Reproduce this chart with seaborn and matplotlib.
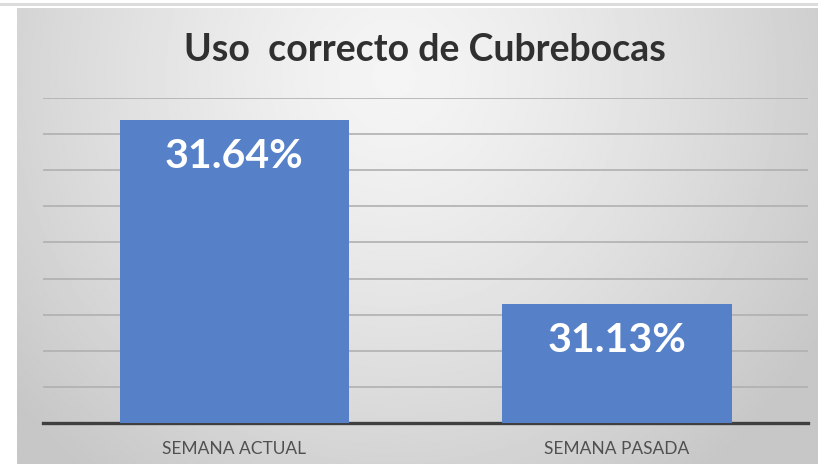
import numpy as np
import pandas as pd
import matplotlib
matplotlib.use("Agg")
import matplotlib.pyplot as plt
import seaborn as sns
from matplotlib.lines import Line2D

categories = ["SEMANA ACTUAL", "SEMANA PASADA"]
values = [31.64, 31.13]
labels = ["31.64%", "31.13%"]
title = "Uso  correcto de Cubrebocas"

sns.set_theme(style="white")
plt.rcParams['font.family'] = ['Lato', 'DejaVu Sans']

W, H = 818, 465
fig = plt.figure(figsize=(W / 100, H / 100), dpi=100, facecolor="white")

# background panel with radial gradient
bg = fig.add_axes([17 / W, 1 / H, 801 / W, 456 / H], zorder=0)
ny, nx = 300, 500
yy, xx = np.mgrid[0:ny, 0:nx]
cx, cy = nx * 0.47, ny * 0.15
d = np.sqrt(((xx - cx) / (nx * 0.62)) ** 2 + ((yy - cy) / (ny * 1.1)) ** 2)
d = np.clip(d, 0, 1)
light, dark = 0.96, 0.78
img = light - (light - dark) * d ** 1.3
bg.imshow(img, cmap="gray", vmin=0, vmax=1, aspect="auto", interpolation="bilinear")
bg.set_axis_off()

# thin band at top
fig.add_artist(Line2D([0, 1], [1 - 4.5 / H, 1 - 4.5 / H], color="#dcdcdc", lw=2.2,
                      transform=fig.transFigure))

ax = fig.add_axes([43 / W, (H - 423) / H, 765 / W, (423 - 98) / H], zorder=1)
ax.patch.set_alpha(0)
df = pd.DataFrame({"cat": categories, "val": values})
sns.barplot(data=df, x="cat", y="val", color="#5681C9", saturation=1, width=0.6,
            linewidth=0, edgecolor="none", ax=ax, zorder=3)
ax.set_ylim(30.8, 31.7)
ax.set_yticks(np.round(np.arange(30.8, 31.71, 0.1), 2))
ax.yaxis.grid(True, color="#b0b0b0", lw=1.2, zorder=0)
ax.set_axisbelow(True)
ax.tick_params(axis="y", left=False, labelleft=False)
ax.tick_params(axis="x", bottom=False, labelsize=12.5, labelcolor="#505050", pad=7)
for s in ["top", "right", "left"]:
    ax.spines[s].set_visible(False)
ax.spines["bottom"].set_color("#3f3f3f")
ax.spines["bottom"].set_linewidth(2.4)
ax.set_xlabel("")
ax.set_ylabel("")

for i, (v, lab) in enumerate(zip(values, labels)):
    ax.annotate(lab, (i, v), xytext=(0, -37), textcoords="offset pixels",
                ha="center", va="center", color="white", fontsize=29.5, fontweight="bold", zorder=5)

fig.text(425 / W, 1 - 50 / H, title, ha="center", va="center", fontsize=27,
         fontweight="bold", color="#303030", zorder=5)

fig.savefig("out.png", dpi=100, facecolor="white")
